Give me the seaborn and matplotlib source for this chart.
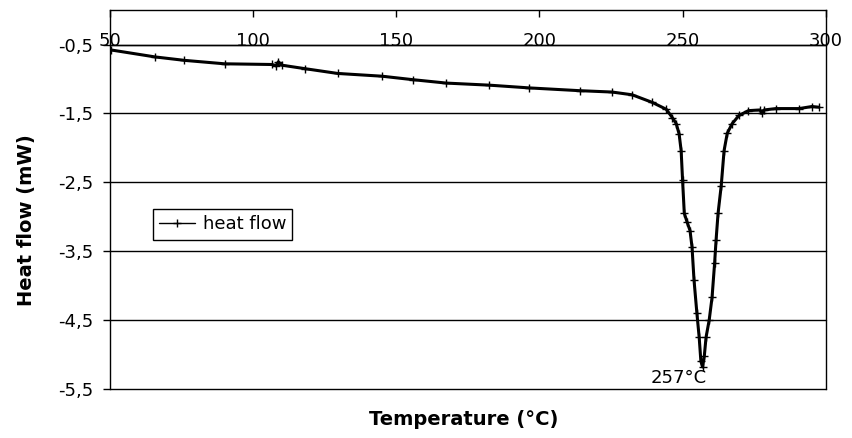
import pandas as pd
import matplotlib
matplotlib.use('Agg')
import matplotlib.pyplot as plt
import seaborn as sns

# DSC curve
temperature = [50.5, 65.7, 76.0, 90.0, 106.5, 108.0, 108.8, 110.0, 118.0, 129.5,
               145.0, 155.7, 167.5, 182.5, 196.5, 214.0, 225.4, 232.4, 239.4, 244.3,
               246.4, 247.8, 248.8, 249.5, 250.0, 250.6, 251.6, 252.6, 253.3, 254.0,
               255.0, 255.8, 256.4, 257.0, 257.6, 258.2, 259.3, 260.3, 261.2, 261.7,
               262.4, 263.5, 264.5, 265.6, 267.3, 269.7, 273.0, 277.0, 277.8, 278.5,
               282.6, 290.7, 295.2, 297.6]
heat_flow = [-0.58, -0.68, -0.73, -0.78, -0.79, -0.81, -0.75, -0.80, -0.85, -0.92,
             -0.96, -1.01, -1.06, -1.09, -1.13, -1.17, -1.19, -1.23, -1.34, -1.44,
             -1.56, -1.65, -1.80, -2.04, -2.47, -2.95, -3.08, -3.20, -3.44, -3.92,
             -4.40, -4.75, -5.10, -5.18, -5.02, -4.75, -4.50, -4.17, -3.67, -3.34,
             -2.95, -2.55, -2.04, -1.79, -1.65, -1.53, -1.46, -1.45, -1.50, -1.45,
             -1.43, -1.43, -1.40, -1.41]

x_ticks = [50, 100, 150, 200, 250, 300]
y_ticks = [-5.5, -4.5, -3.5, -2.5, -1.5, -0.5]
y_tick_labels = [str(v).replace('.', ',') for v in y_ticks]

df = pd.DataFrame({'Temperature': temperature, 'Heat flow': heat_flow})

sns.set_style('white')
plt.rcParams['font.family'] = ['DejaVu Sans']
plt.rcParams['text.color'] = 'black'
plt.rcParams['axes.labelcolor'] = 'black'
plt.rcParams['xtick.color'] = 'black'
plt.rcParams['ytick.color'] = 'black'

fig = plt.figure(figsize=(8.53, 4.38), dpi=100)
ax = fig.add_axes([0.129, 0.112, 0.839, 0.865])

sns.lineplot(data=df, x='Temperature', y='Heat flow', ax=ax, color='black',
             linewidth=2.2, marker='+', markersize=6, markeredgewidth=1,
             markeredgecolor='black', estimator=None, sort=False,
             label='heat flow', zorder=3)

ax.set_xlim(50, 300)
ax.set_ylim(-5.5, 0)

# horizontal gridlines
for v in y_ticks:
    ax.axhline(v, color='black', linewidth=1, zorder=1, clip_on=False)

# x axis crosses at -0.5, labels sit on the line
ax.spines['bottom'].set_position(('data', -0.5))
for s in ax.spines.values():
    s.set_color('black')
    s.set_linewidth(1)
ax.set_xticks(x_ticks)
ax.tick_params(axis='x', direction='in', length=5, width=1, color='black',
               top=True, bottom=False, labelbottom=True, pad=-9, labelsize=13)
ax.set_yticks(y_ticks)
ax.set_yticklabels(y_tick_labels)
ax.tick_params(axis='y', direction='out', length=5, width=1, color='black',
               left=True, pad=7, labelsize=13)

ax.set_xlabel('Temperature (°C)', fontsize=14, fontweight='bold')
ax.xaxis.set_label_coords(0.494, -0.055)
ax.set_ylabel('Heat flow (mW)', fontsize=14, fontweight='bold')
ax.yaxis.set_label_coords(-0.104, 0.446)

ax.text(258.5, -5.34, '257°C', ha='right', va='center', fontsize=13)

leg = ax.legend(loc='upper left', bbox_to_anchor=(0.06, 0.475), borderaxespad=0,
                fontsize=13, fancybox=False, framealpha=1, edgecolor='black',
                handlelength=2.0, handletextpad=0.4, borderpad=0.35)
leg.get_frame().set_linewidth(1)
for t in leg.get_texts():
    t.set_color('black')
for h in leg.get_lines():
    h.set_linewidth(1)

fig.savefig('out.png', dpi=100)
